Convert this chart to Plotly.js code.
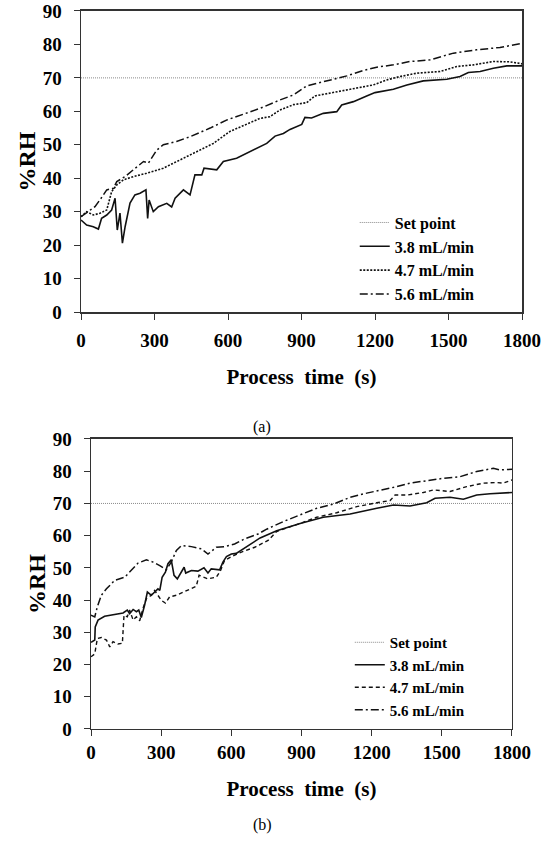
<!DOCTYPE html>
<html>
<head>
<meta charset="utf-8">
<script src="https://cdn.plot.ly/plotly-3.0.1.min.js"></script>
<style>
html,body{margin:0;padding:0;background:#fff;}
#chart{width:550px;height:846px;}
</style>
</head>
<body>
<div id="chart"></div>
<script>
// ---------- Data (panel a) ----------
const seriesNames = ["Set point", "3.8 mL/min", "4.7 mL/min", "5.6 mL/min"];
const xTickVals = [0, 300, 600, 900, 1200, 1500, 1800];
const setPointX = [0, 1800];
const setPointY = [70, 70];

const tA38 = [0,23,50,71,84,105,125,139,148,159,169,180,200,220,241,265,272,278,295,316,350,370,384,418,445,465,493,502,554,581,635,703,758,792,826,853,901,914,941,989,1044,1064,1112,1166,1200,1275,1330,1397,1493,1547,1581,1629,1683,1738,1800];
const rhA38 = [27.5,26,25.5,24.8,28,29,30.5,34,24.5,29.6,20.6,25.5,32.6,35,35.5,36.5,28,33.5,30,31.5,32.5,31.4,34,36.5,35,41,41,43,42.5,45,46,48.4,50.4,52.6,53.4,54.6,56.1,58.2,58,59.4,59.9,61.9,62.9,64.6,65.6,66.6,67.9,69.1,69.6,70.4,71.6,71.9,72.9,73.6,73.6];

const tA47 = [0,23,50,77,105,125,146,173,214,268,336,404,472,540,608,731,771,812,867,921,955,1044,1112,1193,1248,1302,1370,1465,1534,1601,1683,1751,1800];
const rhA47 = [28.5,30,29,29.5,30.5,36,38,39.5,40.5,41.5,43,45.5,48,50.4,54,57.9,58.4,60.4,62,62.6,64.6,65.9,66.9,67.9,69.4,70.4,71.4,71.9,73.4,73.9,74.9,74.8,74.2];

const tA56 = [0,37,57,77,105,132,146,180,214,255,275,309,336,390,445,499,527,598,670,731,812,867,921,1003,1085,1152,1207,1275,1343,1425,1520,1615,1710,1800];
const rhA56 = [28.5,30.5,31.5,33.5,36.5,37,39,40.5,42.5,45,44.5,48.4,50,51,52.4,54,55,57.5,59.3,60.9,63.4,64.9,67.6,69.2,70.6,72.2,73.2,73.9,74.9,75.4,77.4,78.4,79.1,80.3];

// ---------- Data (panel b) ----------
const tB38 = [0,16,18,30,58,101,137,155,165,180,194,204,215,229,241,258,272,286,294,304,318,329,343,355,369,383,398,405,429,457,483,500,514,550,564,579,600,621,650,700,723,794,894,993,1108,1222,1293,1364,1435,1471,1535,1592,1649,1706,1800];
const rhB38 = [26.9,27.6,31.7,33.8,35,35.6,36,36.9,35.8,37.1,36.4,36.9,34.6,38.4,42.5,41.5,42.5,43.5,43,47.1,48.7,51.3,52.5,47.7,46.6,48.4,50.2,48.4,49.2,49,50,48.4,49.7,49.4,51.8,53.5,54.3,54.5,55.9,58.3,59.3,61.5,63.8,65.7,66.7,68.5,69.5,69.2,70.2,71.6,71.9,71.3,72.6,73,73.4];

const tB47 = [0,16,27,44,66,80,94,115,134,141,155,165,180,194,208,222,237,258,272,286,301,318,336,365,393,422,450,462,479,500,536,554,571,600,643,700,757,794,894,965,1050,1136,1222,1279,1300,1350,1421,1464,1535,1606,1678,1734,1763,1800];
const rhB47 = [22.4,23.3,28.1,28.4,27.6,25.5,27.1,26.4,26.6,35.3,34.8,36.9,33.8,34.8,33.6,37.4,40.5,41.5,43,41.5,39.9,39.1,41,41.5,42.5,43.5,44.3,47.7,47.1,46.6,47.1,49.2,52.3,53.5,54.9,56.4,58.5,61.3,63.8,65.7,67.1,69,70.2,70.9,72.6,72.6,73.4,74.2,73.7,75.2,76.3,76.5,76.3,77.3];

const tB56 = [0,16,27,44,66,101,144,172,201,237,265,294,322,343,365,386,429,472,500,536,571,614,657,714,751,823,894,965,1036,1108,1179,1250,1307,1364,1435,1507,1578,1649,1720,1749,1800];
const rhB56 = [35.3,34.8,37.9,41.5,43.5,46.1,47.1,49.4,51.5,52.5,51.8,50.7,49.4,51.8,55.4,56.9,56.6,55.9,54.3,56.4,56.6,57.4,59,60.5,62,64.4,66.4,68.5,69.8,71.9,73.2,74.2,75.2,76.3,77.1,77.8,78.3,79.9,80.9,80.4,80.6];

// ---------- Styles ----------
const FONT = "Liberation Serif, Times New Roman, serif";
const setStyle = {color: "#8a8a8a", width: 1, dash: "1px,1px"};
const solidStyle = {color: "#111", width: 1.6, dash: "solid"};
const dotStyle = {color: "#111", width: 1.6, dash: "2px,1.5px"};
const dashStyle = {color: "#111", width: 1.4, dash: "4px,3px"};
const dashdotStyle = {color: "#111", width: 1.5, dash: "8px,3px,2px,3px"};

function tr(x, y, name, line, xa, ya, leg) {
  return {x: x, y: y, name: name, type: "scatter", mode: "lines", line: line,
          xaxis: xa, yaxis: ya, legend: leg, hoverinfo: "skip"};
}

const data = [
  tr(setPointX, setPointY, seriesNames[0], setStyle, "x", "y", "legend"),
  tr(tA38, rhA38, seriesNames[1], solidStyle, "x", "y", "legend"),
  tr(tA47, rhA47, seriesNames[2], dotStyle, "x", "y", "legend"),
  tr(tA56, rhA56, seriesNames[3], dashdotStyle, "x", "y", "legend"),
  tr(setPointX, setPointY, seriesNames[0], setStyle, "x2", "y2", "legend2"),
  tr(tB38, rhB38, seriesNames[1], solidStyle, "x2", "y2", "legend2"),
  tr(tB47, rhB47, seriesNames[2], dashStyle, "x2", "y2", "legend2"),
  tr(tB56, rhB56, seriesNames[3], dashdotStyle, "x2", "y2", "legend2")
];

function xAxis(domain, anchor, standoff) {
  return {
    domain: domain, anchor: anchor, range: [0, 1800], tickvals: xTickVals,
    ticks: "outside", ticklen: 6, tickwidth: 1, tickcolor: "#333",
    showline: true, linecolor: "#333", linewidth: 1.5, mirror: true,
    showgrid: false, zeroline: false, ticklabelstandoff: standoff,
    tickfont: {family: FONT, size: 19, color: "#000", weight: "bold"},
    title: {text: "Process  time  (s)", standoff: 19,
            font: {family: FONT, size: 21, color: "#000", weight: "bold"}}
  };
}
function yAxis(domain, anchor) {
  return {
    domain: domain, anchor: anchor, range: [0, 90], dtick: 10,
    ticks: "outside", ticklen: 6, tickwidth: 1, tickcolor: "#333",
    showline: true, linecolor: "#333", linewidth: 1.5, mirror: true,
    showgrid: false, zeroline: false, ticklabelstandoff: 8,
    tickfont: {family: FONT, size: 19, color: "#000", weight: "bold"},
    title: {text: "%RH", standoff: 0,
            font: {family: FONT, size: 24, color: "#000", weight: "bold"}}
  };
}

const legendBase = {
  bgcolor: "rgba(0,0,0,0)", borderwidth: 0, xanchor: "left", yanchor: "top",
  font: {family: FONT, size: 16, color: "#000", weight: "bold"},
  tracegroupgap: 0, itemclick: false, itemdoubleclick: false
};

const layout = {
  width: 550, height: 846,
  margin: {l: 0, r: 0, t: 0, b: 0},
  paper_bgcolor: "#fff", plot_bgcolor: "#fff",
  showlegend: true,
  xaxis: xAxis([0.1473, 0.9491], "y", 5),
  yaxis: yAxis([0.6312, 0.987], "x"),
  xaxis2: xAxis([0.1655, 0.9309], "y2", 0),
  yaxis2: yAxis([0.1383, 0.4811], "x2"),
  legend: Object.assign({}, legendBase, {x: 0.645, y: 0.757}),
  legend2: Object.assign({}, legendBase, {x: 0.636, y: 0.260,
            font: {family: FONT, size: 15, color: "#000", weight: "bold"}}),
  annotations: [
    {text: "(a)", xref: "paper", yref: "paper", x: 262/550, y: 1 - 427/846,
     showarrow: false, font: {family: FONT, size: 16, color: "#000"}},
    {text: "(b)", xref: "paper", yref: "paper", x: 262/550, y: 1 - 836/846,
     showarrow: false, font: {family: FONT, size: 16, color: "#000"}}
  ]
};

Plotly.newPlot("chart", data, layout, {staticPlot: true, displayModeBar: false});
</script>
</body>
</html>
